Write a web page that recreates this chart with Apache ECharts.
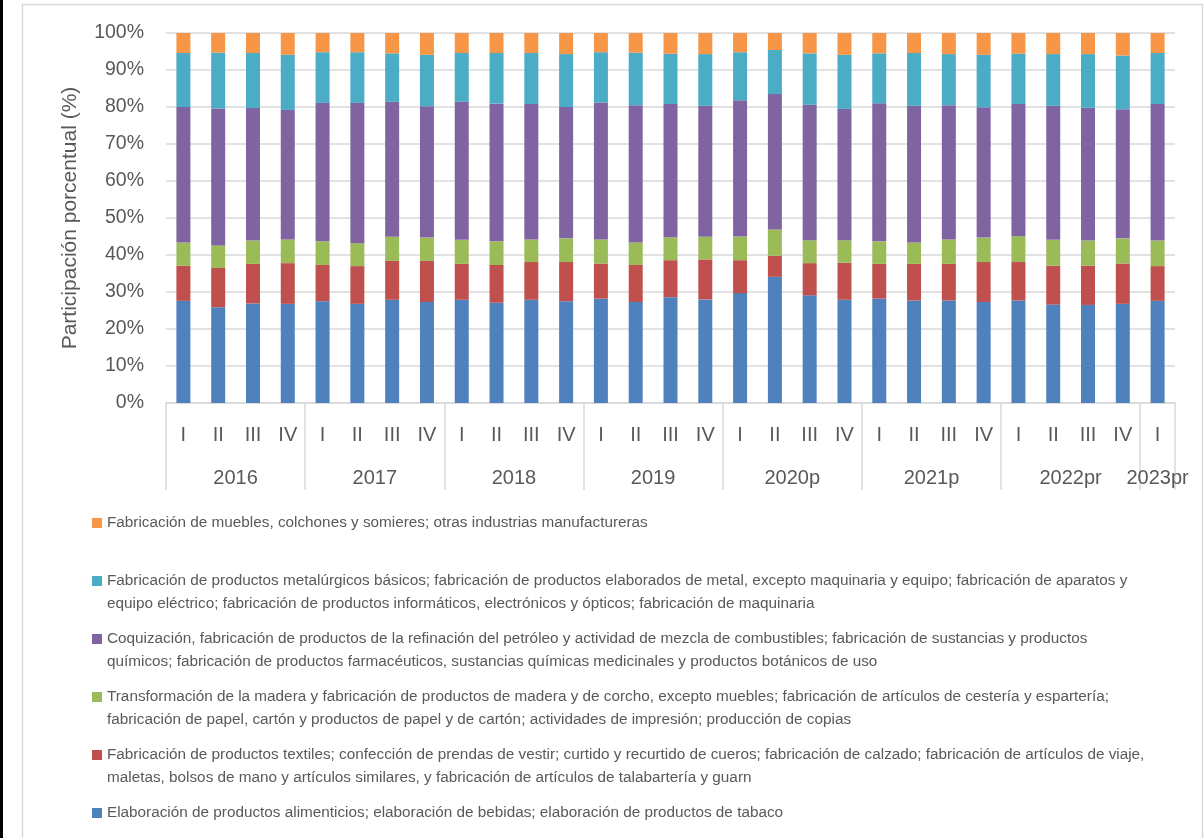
<!DOCTYPE html>
<html>
<head>
<meta charset="utf-8">
<script src="https://cdn.jsdelivr.net/npm/echarts@6/dist/echarts.min.js"></script>
<style>
html,body{margin:0;padding:0;background:#fff;}
#chart{width:1204px;height:838px;}
</style>
</head>
<body>
<div id="chart"></div>
<script>
// ---- Data ----
const quarters = ['I','II','III','IV','I','II','III','IV','I','II','III','IV','I','II','III','IV',
                  'I','II','III','IV','I','II','III','IV','I','II','III','IV','I'];
const yearLabels = ['2016','2017','2018','2019','2020p','2021p','2022pr','2023pr'];
const quartersPerYear = [4,4,4,4,4,4,4,1];
const yTicks = [0,10,20,30,40,50,60,70,80,90,100];

const seriesNames = [
  'Elaboración de productos alimenticios; elaboración de bebidas; elaboración de productos de tabaco',
  'Fabricación de productos textiles; confección de prendas de vestir; curtido y recurtido de cueros; fabricación de calzado; fabricación de artículos de viaje, maletas, bolsos de mano y artículos similares, y fabricación de artículos de talabartería y guarn',
  'Transformación de la madera y fabricación de productos de madera y de corcho, excepto muebles; fabricación de artículos de cestería y espartería; fabricación de papel, cartón y productos de papel y de cartón; actividades de impresión; producción de copias',
  'Coquización, fabricación de productos de la refinación del petróleo y actividad de mezcla de combustibles; fabricación de sustancias y productos químicos; fabricación de productos farmacéuticos, sustancias químicas medicinales y productos botánicos de uso',
  'Fabricación de productos metalúrgicos básicos; fabricación de productos elaborados de metal, excepto maquinaria y equipo; fabricación de aparatos y equipo eléctrico; fabricación de productos informáticos, electrónicos y ópticos; fabricación de maquinaria',
  'Fabricación de muebles, colchones y somieres; otras industrias manufactureras'
];
const legendSecondLine = [null, 'maletas,', 'fabricación de papel', 'químicos;', 'equipo eléctrico;', null];

const alimentos = [27.6,25.9,26.9,26.8,27.5,26.8,27.9,27.3,27.9,27.1,27.9,27.5,28.2,27.3,28.6,28.0,29.7,34.1,29.1,27.9,28.2,27.7,27.7,27.3,27.7,26.6,26.5,26.8,27.6];
const textiles  = [9.5,10.6,10.7,11.0,9.8,10.2,10.5,11.1,9.7,10.2,10.2,10.6,9.5,10.0,10.0,10.8,8.9,5.7,8.7,10.0,9.4,9.9,9.9,10.8,10.4,10.5,10.6,10.9,9.4];
const madera    = [6.3,6.1,6.3,6.4,6.4,6.2,6.5,6.3,6.5,6.4,6.1,6.4,6.5,6.1,6.2,6.1,6.4,7.1,6.2,6.1,6.1,5.8,6.6,6.6,7.0,7.0,6.8,6.8,6.9];
const quimicos  = [36.6,37.0,35.8,35.0,37.4,37.9,36.5,35.5,37.3,37.2,36.6,35.5,37.0,37.1,36.0,35.4,36.8,36.6,36.6,35.5,37.3,36.9,36.3,35.2,35.7,36.2,35.9,34.9,36.9];
const metal     = [14.6,15.1,14.9,14.9,13.7,13.7,13.1,13.9,13.2,13.7,13.8,14.3,13.6,14.2,13.6,14.0,13.0,11.9,13.9,14.6,13.5,14.3,13.8,14.2,13.6,14.0,14.5,14.5,13.8];
const muebles   = [5.4,5.3,5.4,5.9,5.2,5.2,5.5,5.9,5.4,5.4,5.4,5.7,5.2,5.3,5.6,5.7,5.2,4.6,5.5,5.9,5.5,5.4,5.7,5.9,5.6,5.7,5.7,6.1,5.4];

// ---- Styles ----
const colors = ['#4F81BD','#C0504D','#9BBB59','#8064A2','#4BACC6','#F79646'];
const axisFont = "'Liberation Sans',Arial,sans-serif";
const textFont = "'Liberation Sans',Arial,sans-serif";
const textColor = '#595959';
const gridColor = '#d9d9d9';

// group axis (half-slot positions)
const nQ = quarters.length;
const halfCount = nQ * 2;
const groupData = new Array(halfCount + 1).fill('');
const boundaryIdx = new Set([0]);
let cum = 0;
yearLabels.forEach((y, k) => {
  const start = cum * 2, end = (cum + quartersPerYear[k]) * 2;
  groupData[(start + end) / 2] = y;
  boundaryIdx.add(end);
  cum += quartersPerYear[k];
});

const valuesList = [alimentos, textiles, madera, quimicos, metal, muebles];
const series = valuesList.map((vals, i) => ({
  name: seriesNames[i],
  type: 'bar',
  stack: 'total',
  barWidth: 14,
  xAxisIndex: 0,
  itemStyle: { color: colors[i] },
  data: vals
}));

function legendText(idx) {
  const name = seriesNames[idx];
  const s2 = legendSecondLine[idx];
  if (!s2) return name;
  const p = name.indexOf(s2);
  return '\n' + name.slice(0, p).trim() + '\n' + name.slice(p);
}

const legendCenters = [523, 581, 639, 697, 755, 813];
const legendOrder = [5, 4, 3, 2, 1, 0];
const legends = legendOrder.map((si, k) => {
  const multi = !!legendSecondLine[si];
  return {
    data: [seriesNames[si]],
    orient: 'vertical',
    left: 92,
    top: legendCenters[k] - (multi ? 34.5 : 11.5),
    padding: 0,
    itemWidth: 10,
    itemHeight: 10,
    icon: 'rect',
    selectedMode: false,
    formatter: () => legendText(si),
    textStyle: { fontFamily: textFont, fontSize: 15.3, color: textColor, lineHeight: 23 }
  };
});

const option = {
  animation: false,
  backgroundColor: '#ffffff',
  color: colors,
  grid: { left: 166, right: 29, top: 33, bottom: 435, containLabel: false },
  legend: legends,
  graphic: [
    { type: 'rect', shape: { x: 0, y: 0, width: 3, height: 838 }, style: { fill: '#000' }, silent: true },
    { type: 'rect', shape: { x: 22.5, y: 4.5, width: 1180, height: 900 }, style: { fill: 'none', stroke: gridColor, lineWidth: 1.5 }, silent: true }
  ],
  xAxis: [
    {
      type: 'category',
      data: quarters,
      position: 'bottom',
      axisLine: { show: true, lineStyle: { color: gridColor, width: 1.5 } },
      axisTick: { show: false },
      axisLabel: { fontFamily: axisFont, fontSize: 20, color: textColor, margin: 22, interval: 0 }
    },
    {
      type: 'category',
      data: groupData,
      boundaryGap: false,
      position: 'bottom',
      axisLine: { show: false },
      axisTick: {
        show: true, length: 87, inside: false,
        interval: (idx) => boundaryIdx.has(idx),
        lineStyle: { color: gridColor, width: 1.5 }
      },
      axisLabel: {
        fontFamily: axisFont, fontSize: 20, color: textColor, margin: 65,
        interval: (idx, val) => val !== ''
      },
      splitLine: { show: false }
    }
  ],
  yAxis: {
    type: 'value',
    min: yTicks[0],
    max: yTicks[yTicks.length - 1],
    interval: yTicks[1] - yTicks[0],
    name: 'Participación porcentual (%)',
    nameLocation: 'middle',
    nameGap: 85,
    nameTextStyle: { fontFamily: textFont, fontSize: 21, color: textColor },
    axisLine: { show: false },
    axisTick: { show: false },
    axisLabel: { formatter: '{value}%', fontFamily: axisFont, fontSize: 19.5, color: textColor, margin: 22 },
    splitLine: { lineStyle: { color: gridColor, width: 1.5 } }
  },
  series: series
};

const chart = echarts.init(document.getElementById('chart'), null, { renderer: 'canvas' });
chart.setOption(option);
</script>
</body>
</html>
